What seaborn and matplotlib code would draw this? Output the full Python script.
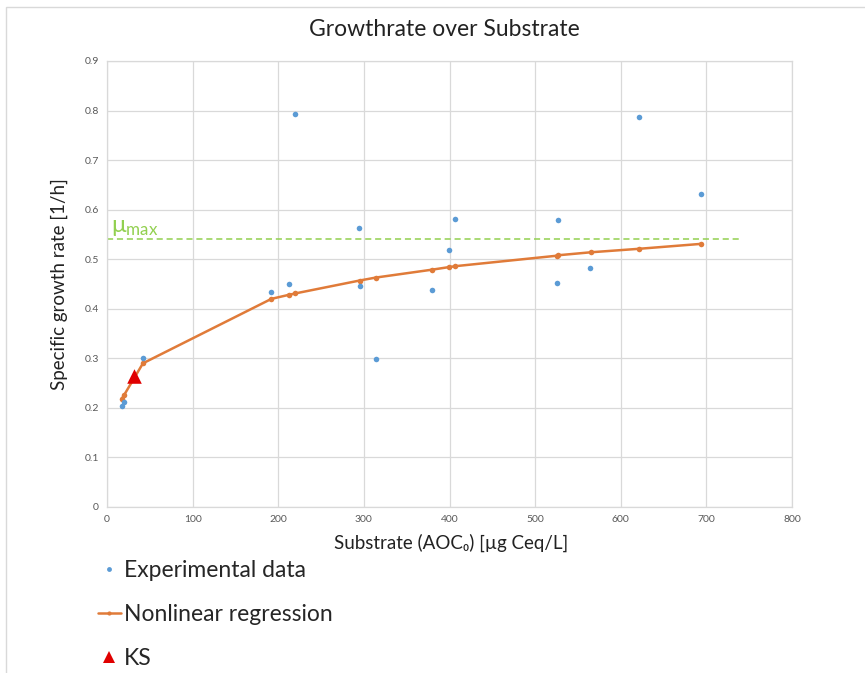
import matplotlib
matplotlib.use("Agg")
import matplotlib.pyplot as plt
import seaborn as sns
import pandas as pd
from matplotlib.lines import Line2D
from matplotlib.patches import Rectangle

# ---- data ----
exp_x = [18, 20, 42, 192, 212, 220, 294, 295, 314, 379, 399, 407, 525, 527, 564, 621, 694]
exp_y = [0.203, 0.211, 0.301, 0.434, 0.449, 0.793, 0.562, 0.446, 0.298, 0.438, 0.518, 0.581,
         0.453, 0.579, 0.482, 0.787, 0.632]
reg_x = [17, 20, 42, 192, 212, 220, 295, 314, 380, 399, 407, 525, 527, 565, 621, 694]
reg_y = [0.218, 0.226, 0.290, 0.420, 0.428, 0.431, 0.457, 0.463, 0.479, 0.484, 0.486,
         0.507, 0.508, 0.514, 0.521, 0.531]
ks_x = [31.5]
ks_y = [0.264]
mu_max = 0.54
mu_max_xrange = [0, 738]
x_ticks = [0, 100, 200, 300, 400, 500, 600, 700, 800]
y_ticks = [0, 0.1, 0.2, 0.3, 0.4, 0.5, 0.6, 0.7, 0.8, 0.9]

title = "Growthrate over Substrate"
xlabel = "Substrate (AOC₀) [µg Ceq/L]"
ylabel = "Specific growth rate [1/h]"
legend_labels = ["Experimental data", "Nonlinear regression", "KS"]

sns.set_theme(style="white")
plt.rcParams['font.family'] = ['Lato', 'DejaVu Sans']
plt.rcParams['mathtext.default'] = 'regular'

BLUE = "#5B9BD5"
ORANGE = "#E07B39"
RED = "#E00000"
GREEN = "#92D050"

fig = plt.figure(figsize=(8.65, 6.73), dpi=100)
ax = fig.add_axes([107/865, 1-507/673, 685/865, 446/673])

df_exp = pd.DataFrame({"x": exp_x, "y": exp_y})
df_reg = pd.DataFrame({"x": reg_x, "y": reg_y})
df_ks = pd.DataFrame({"x": ks_x, "y": ks_y})

ax.plot(mu_max_xrange, [mu_max, mu_max], color=GREEN, lw=1.1, ls=(0, (4, 2.5)), zorder=2)
sns.lineplot(data=df_reg, x="x", y="y", ax=ax, color=ORANGE, lw=1.8, marker="o",
             markersize=4, markeredgewidth=0, sort=False, zorder=3)
sns.scatterplot(data=df_exp, x="x", y="y", ax=ax, color=BLUE, s=16, linewidth=0, zorder=4)
sns.scatterplot(data=df_ks, x="x", y="y", ax=ax, color=RED, marker="^", s=110, linewidth=0, zorder=5)

ax.text(5, mu_max + 0.002, r"$μ_{max}$", color=GREEN, fontsize=17.5, ha="left", va="bottom")

ax.set_xlim(0, 800)
ax.set_ylim(0, 0.9)
ax.set_xticks(x_ticks)
ax.set_yticks(y_ticks)
ax.set_xticklabels([str(t) for t in x_ticks])
ax.set_yticklabels(["0" if t == 0 else f"{t:.1f}" for t in y_ticks])
ax.tick_params(axis="both", labelsize=7.5, colors="#595959", length=0, pad=6)
ax.grid(True, color="#D9D9D9", lw=0.9)
ax.set_axisbelow(True)
for s in ax.spines.values():
    s.set_visible(True)
    s.set_color("#D9D9D9")
    s.set_linewidth(0.9)

ax.set_xlabel(xlabel, fontsize=13.5, color="#222222", labelpad=6)
ax.set_ylabel(ylabel, fontsize=13.5, color="#222222", labelpad=12)
ax.xaxis.set_label_coords(0.502, -0.06)
fig.suptitle(title, fontsize=16.5, color="#222222", x=444/865, y=1-30/673, va="center")

handles = [
    Line2D([], [], ls="none", marker="o", color=BLUE, markersize=3.5, markeredgewidth=0),
    Line2D([], [], color=ORANGE, lw=1.8, marker="o", markersize=3, markeredgewidth=0),
    Line2D([], [], ls="none", marker="^", color=RED, markersize=9, markeredgewidth=0),
]
fig.legend(handles, legend_labels, loc="upper left", bbox_to_anchor=(98/865, 1-560/673),
           frameon=False, fontsize=16.5, handlelength=1.0, handletextpad=0.15,
           labelspacing=1.0, borderaxespad=0, borderpad=0)

fig.patches.append(Rectangle((6/865, -0.01), 1.0, 1 - 7/673 + 0.01, transform=fig.transFigure,
                             fill=False, edgecolor="#D9D9D9", lw=1.0))

fig.savefig("out.png", dpi=100, facecolor="white")
